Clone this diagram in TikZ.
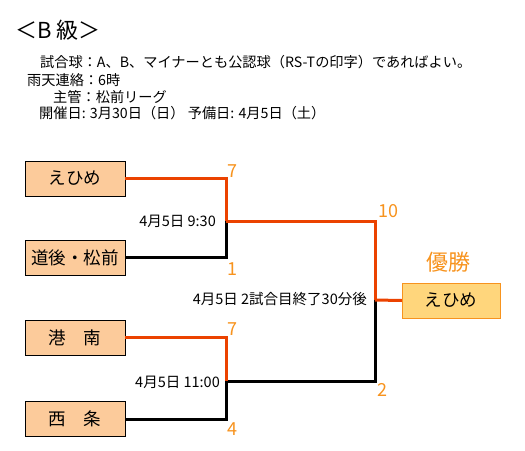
\documentclass[tikz,border=0pt]{standalone}
\usepackage{fontspec}
\setmainfont{Noto Sans CJK JP}
\definecolor{teamfill}{HTML}{FCCB9B}
\definecolor{winfill}{HTML}{FFD67C}
\definecolor{winline}{HTML}{EB4200}
\definecolor{scorecol}{HTML}{F7931E}
\begin{document}
\begin{tikzpicture}[x=1pt, y=-1pt,
    team/.style={draw, rectangle, fill=teamfill, minimum width=100, minimum height=35, inner sep=0, font=\fontsize{17.5}{20}\selectfont},
    champ/.style={draw=scorecol, rectangle, fill=winfill, minimum width=98, minimum height=35, inner sep=0, font=\fontsize{17.5}{20}\selectfont},
    score/.style={text=scorecol, inner sep=0, font=\fontsize{18}{20}\selectfont},
    info/.style={anchor=base west, inner sep=0, font=\fontsize{14.2}{16}\selectfont},
    date/.style={anchor=east, inner sep=0, font=\fontsize{14.5}{16}\selectfont},
    lose/.style={line width=3, black},
    win/.style={line width=3, winline}
]
\useasboundingbox (0,0) rectangle (525,450);

% Header
\node[anchor=base west, inner sep=0, font=\fontsize{22}{24}\selectfont] (title) at (15,38) {＜B 級＞};
\node[info] (ball) at (40,67) {試合球：A、B、マイナーとも公認球（RS-Tの印字）であればよい。};
\node[info] (rain) at (27,85) {雨天連絡：6時};
\node[info] (host) at (53,102) {主管：松前リーグ};
\node[info] (day) at (39,118) {開催日: 3月30日（日）\ 予備日: 4月5日（土）};

% Teams (left)
\node[team] (ehime) at (75,178.5) {えひめ};
\node[team] (dogo) at (75,257.5) {道後・松前};
\node[team] (konan) at (75,337.5) {港\quad 南};
\node[team] (saijo) at (75,419) {西\quad 条};

% Winner (right)
\node[champ] (winner) at (451,300.5) {えひめ};
\node[text=scorecol, inner sep=0, font=\fontsize{22}{24}\selectfont] (title2) at (448,262) {優勝};

% Junctions
\coordinate (semi1) at (226,221);
\coordinate (semi2) at (226,381);
\coordinate (final) at (375,300);

% Losing lines
\draw[lose] (dogo.east) -| (semi1);
\draw[lose] (saijo.east) -| (semi2);
\draw[lose] (semi2) -| (final);

% Winning lines
\draw[win] (ehime.east) -| (semi1);
\draw[win] (konan.east) -| (semi2);
\draw[win] (semi1) -| (final);
\draw[win] (final) -- (winner.west);

% Scores
\node[score] (s1) at (232,171) {7};
\node[score] (s2) at (232,269) {1};
\node[score] (s3) at (232,329) {7};
\node[score] (s4) at (232,429) {4};
\node[score] (s5) at (388,211) {10};
\node[score] (s6) at (382,390) {2};

% Game times
\node[date] (g1) at (216,221) {4月5日 9:30};
\node[date] (g2) at (220,382) {4月5日 11:00};
\node[date] (g3) at (367,299) {4月5日 2試合目終了30分後};
\end{tikzpicture}
\end{document}
